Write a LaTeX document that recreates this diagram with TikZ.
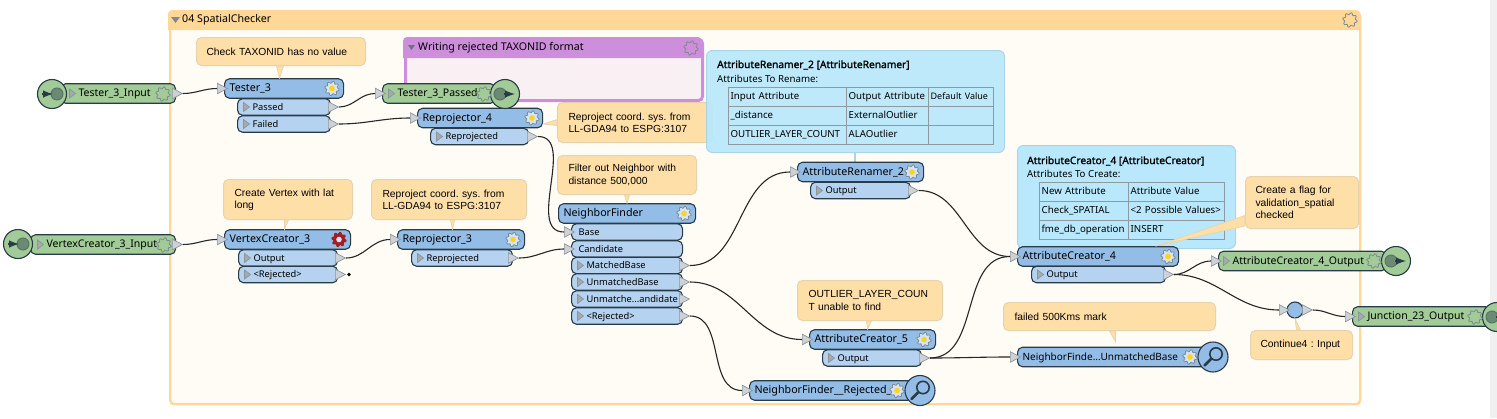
\documentclass[tikz,border=0pt]{standalone}
\usepackage{fontspec}
\setmainfont{Noto Sans}[AutoFakeBold=1.5]
\newfontfamily\notefont{Liberation Sans}
\usetikzlibrary{shapes.geometric,positioning}

\definecolor{inkline}{HTML}{2A3B48}
\definecolor{hdrblue}{HTML}{93BDE6}
\definecolor{portblue}{HTML}{B5D3F1}
\definecolor{pillgreen}{HTML}{A1CB97}
\definecolor{notefill}{HTML}{FFDFA8}
\definecolor{noteline}{HTML}{E6D3AE}
\definecolor{bandorange}{HTML}{FFD897}
\definecolor{bandbody}{HTML}{FFFCF6}
\definecolor{bandpurple}{HTML}{CD8FDB}
\definecolor{purplebody}{HTML}{F8F0F3}
\definecolor{infoblue}{HTML}{B9E8FC}
\definecolor{infoline}{HTML}{A9D5E6}
\definecolor{cellline}{HTML}{8F9AA0}
\definecolor{tipgray}{HTML}{CDD2D6}
\definecolor{tipline}{HTML}{8D959B}
\definecolor{cogline}{HTML}{7F8A90}
\definecolor{cogyellow}{HTML}{FFD21E}
\definecolor{cogred}{HTML}{A61C22}

\begin{document}
\frenchspacing
\begin{tikzpicture}[
        x=1pt, y=-1pt,
        every node/.style = {inner sep=0pt},
        tri/.style = {path picture={
                \filldraw[sharp corners, line width=0.7pt, fill=tipline!80, draw=tipline]
                ([xshift=#1,yshift=4.5pt]path picture bounding box.west) --
                ([xshift=#1+6]path picture bounding box.west) --
                ([xshift=#1,yshift=-4.5pt]path picture bounding box.west) -- cycle;}},
        block/.style n args = {3}{draw=inkline, line width=1.1pt, rounded corners=5pt, anchor=west,
                minimum height=#2, inner xsep=#3, text width=#1-2*(#3),
                text height=8.5pt, text depth=2.5pt},
        hdr/.style = {block={#1}{19.5pt}{5}, fill=hdrblue, font=\fontsize{10.7}{13}\selectfont},
        port/.style = {block={#1}{16.5pt}{15}, fill=portblue, tri=6, font=\fontsize{9.3}{11}\selectfont},
        inport/.style = {block={#1}{16.5pt}{7}, fill=portblue, font=\fontsize{9.3}{11}\selectfont},
        pill/.style 2 args = {block={#1}{19.5pt}{#2+6}, fill=pillgreen, tri=#2-3, font=\fontsize{10.5}{13}\selectfont},
        tip/.style = {isosceles triangle, isosceles triangle apex angle=70, isosceles triangle stretches,
                draw=tipline, fill=tipgray, line width=0.7pt, minimum width=10.5pt, minimum height=10pt, anchor=west},
        portal/.style = {circle, draw=inkline, line width=1.1pt, fill=pillgreen, minimum size=29pt},
        note/.style = {draw=noteline, line width=1pt, fill=notefill, rounded corners=5pt, anchor=north west,
                align=left, font=\notefont\fontsize{10.3}{12.2}\selectfont},
        tail/.style = {fill=notefill, draw=noteline, line width=0.7pt},
        info/.style = {draw=infoline, line width=1pt, fill=infoblue, rounded corners=6pt, anchor=north west},
        infotxt/.style = {anchor=west, font=\fontsize{9.7}{11}\selectfont},
        infohead/.style = {anchor=west, font=\fontsize{10.2}{11}\bfseries\selectfont},
        cell/.style 2 args = {draw=cellline, line width=1.3pt, anchor=north west, inner xsep=2pt,
                minimum height=#2, text width=#1-4, text height=7.5pt, text depth=2pt,
                font=\fontsize{9.7}{11}\selectfont},
        wire/.style = {draw=black!85, line width=1.1pt},
        title/.style = {anchor=west, font=\fontsize{10.65}{13}\selectfont},
        pics/cog/.style n args = {3}{code={
                \filldraw[fill=#2, draw=#1, line width=0.8pt] plot[samples=65,domain=0:360,smooth]
                (\x:{6.3+1*sin(8*\x)}) -- cycle;
                \fill[#3] (0,0) circle (2.8pt);}},
        pics/lens/.style = {code={
                \draw[inkline, line width=1.1pt, fill=hdrblue] (0,0) circle (15pt);
                \draw[inkline, line width=2.6pt, line cap=round] (-2,2) -- (-8.5,8.5);
                \draw[inkline, line width=1.6pt] (3,-3) circle (6.2pt);}},
        ]
        \useasboundingbox (0,0) rectangle (1497,418);

        % scroll strip and the two bookmarks
        \fill[black!6] (1490,0) rectangle (1497,418);
        \node[draw=bandorange, line width=2.4pt, fill=bandbody, rounded corners=4pt, minimum width=1190pt, minimum height=392pt,
              anchor=north west](spatial) at (169,11) {};
        \fill[bandorange] (168,30) [rounded corners=4pt] -- (168,10) -- (1360,10) [sharp corners] -- (1360,30) -- cycle;
        \fill[cogline] (171,17) -- (180,17) -- (175.5,23) -- cycle;
        \node[title](spatialname) at (182,20) {04 SpatialChecker};
        \pic at (1350,20) {cog={cogline}{bandorange}{bandorange}};

        \node[draw=bandpurple, line width=3pt, fill=purplebody, rounded corners=4pt, minimum width=297pt, minimum height=61pt,
              anchor=north west](rejected) at (404,38) {};
        \fill[bandpurple] (403,58) [rounded corners=4pt] -- (403,37) -- (702,37) [sharp corners] -- (702,58) -- cycle;
        \fill[inkline!70] (408,45) -- (415,45) -- (411.5,50) -- cycle;
        \node[title](rejectedname) at (418,48) {Writing rejected TAXONID format};
        \pic at (691,48) {cog={cogline}{bandpurple}{bandpurple}};

        % annotations
        \node[note, minimum width=169pt, minimum height=28pt, inner xsep=10pt, text width=149pt](noteCheck) at (196,37) {Check TAXONID has no value};
        \node[note, minimum width=155pt, minimum height=40pt, inner xsep=11pt, text width=133pt](noteRepA) at (557,102) {Reproject coord. sys. from\\LL-GDA94 to ESPG:3107};
        \node[note, minimum width=129pt, minimum height=40pt, inner xsep=11pt, text width=107pt](noteVertex) at (223,179) {Create Vertex with lat\\long};
        \node[note, minimum width=155pt, minimum height=40pt, inner xsep=11pt, text width=133pt](noteRepB) at (371,179) {Reproject coord. sys. from\\LL-GDA94 to ESPG:3107};
        \node[note, minimum width=139pt, minimum height=39pt, inner xsep=11pt, text width=117pt](noteFilter) at (557,155) {Filter out Neighbor with\\distance 500,000};
        \node[note, minimum width=145pt, minimum height=40pt, inner xsep=11pt, text width=123pt](noteOutlier) at (797,280) {OUTLIER\_LAYER\_COUN\\T unable to find};
        \node[note, minimum width=212pt, minimum height=28pt, inner xsep=11pt, text width=190pt](noteFailed) at (1003,302) {failed 500Kms mark};
        \node[note, minimum width=102pt, minimum height=29pt, inner xsep=10pt, text width=82pt](noteCont) at (1250,330) {Continue4 : Input};

        % attribute panels
        \node[info, fill opacity=0.92, minimum width=298pt, minimum height=102pt](infoRenamer) at (706,50) {};
        \node[infohead](infoRenamerA) at (717,65) {AttributeRenamer\_2 [AttributeRenamer]};
        \node[infotxt](infoRenamerB) at (717,79) {Attributes To Rename:};
        \node[cell={118}{19pt}](ra) at (728,87) {Input Attribute};
        \node[cell={82}{19pt}](rb) at (846,87) {Output Attribute};
        \node[cell={65}{19pt}](rc) at (928,87) {\mbox{\fontsize{9}{11}\selectfont Default Value}};
        \node[cell={118}{19pt}](rd) at (728,106) {\_distance};
        \node[cell={82}{19pt}](re) at (846,106) {ExternalOutlier};
        \node[cell={65}{19pt}](rf) at (928,106) {};
        \node[cell={118}{19pt}](rg) at (728,125) {OUTLIER\_LAYER\_COUNT};
        \node[cell={82}{19pt}](rh) at (846,125) {ALAOutlier};
        \node[cell={65}{19pt}](ri) at (928,125) {};
        \draw[infoline, line width=2pt] (855,152) -- (855,162);

        \node[info, minimum width=218pt, minimum height=103pt](infoCreator) at (1017,145) {};
        \node[infohead](infoCreatorA) at (1027,161) {AttributeCreator\_4 [AttributeCreator]};
        \node[infotxt](infoCreatorB) at (1027,174) {Attributes To Create:};
        \node[cell={89}{19pt}](ca) at (1039,182) {New Attribute};
        \node[cell={96}{19pt}](cb) at (1128,182) {Attribute Value};
        \node[cell={89}{19pt}](cc) at (1039,201) {Check\_SPATIAL};
        \node[cell={96}{19pt}](cd) at (1128,201) {<2 Possible Values>};
        \node[cell={89}{19pt}](ce) at (1039,220) {fme\_db\_operation};
        \node[cell={96}{19pt}](cf) at (1128,220) {INSERT};

        \node[note, minimum width=113pt, minimum height=52pt, inner xsep=10pt, text width=93pt](noteFlag) at (1245,176) {Create a flag for\\validation\_spatial\\checked};

        % transformers and their ports
        \node[hdr=119](tester) at (224,88.5) {Tester\_3};
        \node[port=93](testerPass) at (237,107) {Passed};
        \node[port=93](testerFail) at (237,124) {Failed};

        \node[hdr=125](repA) at (417,118) {Reprojector\_4};
        \node[port=98](repAout) at (430,136.5) {Reprojected};

        \node[hdr=126](vertex) at (224,239.5) {VertexCreator\_3};
        \node[port=99](vertexOut) at (238,258) {Output};
        \node[port=99](vertexRej) at (238,274.5) {<Rejected>};

        \node[hdr=127](repB) at (397,239.5) {Reprojector\_3};
        \node[port=101](repBout) at (411,258) {Reprojected};

        \node[hdr=137](finder) at (558,213.5) {NeighborFinder};
        \node[inport=111](finderBase) at (571,232) {Base};
        \node[inport=111](finderCand) at (571,249) {Candidate};
        \node[port=111](finderMatch) at (571,265.5) {MatchedBase};
        \node[port=111](finderUnm) at (571,282) {UnmatchedBase};
        \node[port=111](finderUnc) at (571,299) {Unmatche...andidate};
        \node[port=111](finderRej) at (571,316) {<Rejected>};

        \node[hdr=126](renamer) at (797,172) {AttributeRenamer\_2};
        \node[port=100](renamerOut) at (810,190.5) {Output};

        \node[hdr=161](creatorD) at (1017,256.5) {AttributeCreator\_4};
        \node[port=134](creatorDout) at (1031,274.5) {Output};

        \node[hdr=126](creatorE) at (809,339.5) {AttributeCreator\_5};
        \node[port=99](creatorEout) at (822,358) {Output};

        \node[hdr=170](rejectedview) at (749,390.5) {NeighborFinder\_\_Rejected\_};
        \node[hdr=190, font=\fontsize{10}{13}\selectfont](unmatchedview) at (1017,357) {NeighborFinde...UnmatchedBase};

        % feature types on the outer edges
        \node[pill={115}{12}](testerInput) at (60,93.5) {Tester\_3\_Input};
        \node[portal](testerInputEnd) at (52,94) {};
        \node[pill={145}{10}](vertexInput) at (30,244.5) {VertexCreator\_3\_Input};
        \node[portal](vertexInputEnd) at (18,244) {};
        \node[pill={113}{9}](testerPassed) at (382,93.5) {Tester\_3\_Passed};
        \node[portal](testerPassedEnd) at (505,94) {};
        \node[pill={168}{8}](creatorOutput) at (1218,261) {AttributeCreator\_4\_Output};
        \node[portal](creatorOutputEnd) at (1396,261) {};
        \node[pill={138}{9}](junctionOutput) at (1352,316.5) {Junction\_23\_Output};
        \node[portal](junctionOutputEnd) at (1497,317) {};
        \node[circle, draw=inkline, line width=1.1pt, fill=hdrblue, minimum size=16pt](junction) at (1295,310) {};

        % annotation tails
        \filldraw[tail] ([xshift=-4.5pt]noteCheck.south) -- ([xshift=-4.5pt]tester.north) -- ([xshift=2.5pt]noteCheck.south) -- cycle;
        \filldraw[tail] ([yshift=3pt]noteRepA.west) -- ([yshift=-6pt]repA.east) -- ([yshift=-3pt]noteRepA.west) -- cycle;
        \filldraw[tail] ([xshift=-3.5pt]noteVertex.south) -- ([xshift=-3pt]vertex.north) -- ([xshift=0.5pt]noteVertex.south) -- cycle;
        \filldraw[tail] ([xshift=1.5pt]noteRepB.south) -- ([xshift=-8.5pt]repB.north) -- ([xshift=5.5pt]noteRepB.south) -- cycle;
        \filldraw[tail] ([xshift=-2.5pt]noteFilter.south) -- (finder.north) -- ([xshift=2.5pt]noteFilter.south) -- cycle;
        \filldraw[tail] ([xshift=-3.5pt]noteOutlier.south) -- ([xshift=-5pt]creatorE.north) -- ([xshift=1.5pt]noteOutlier.south) -- cycle;
        \filldraw[tail] (noteFailed.south) -- ([xshift=3pt,yshift=5pt]unmatchedview.north) -- ([xshift=6pt]noteFailed.south) -- cycle;
        \filldraw[tail] ([xshift=-5pt]noteCont.north) -- (junction.south) -- ([xshift=-1pt]noteCont.north) -- cycle;
        \filldraw[tail] ([yshift=-13pt]noteFlag.west) -- ([xshift=57.5pt]creatorD.north) -- ([yshift=3pt]noteFlag.south west) -- cycle;

        % arrows on the end circles
        \foreach \c in {testerInputEnd, vertexInputEnd} {
            \draw[inkline!60!pillgreen, fill=inkline!45!pillgreen, line width=1pt] ([xshift=5pt]\c.center) circle (6pt);
            \draw[inkline, line width=2.4pt, -latex] ([xshift=-10pt]\c.center) -- ([xshift=1pt]\c.center);
        }
        \foreach \c in {testerPassedEnd, creatorOutputEnd, junctionOutputEnd} {
            \draw[inkline!60!pillgreen, fill=inkline!45!pillgreen, line width=1pt] ([xshift=-5pt]\c.center) circle (6pt);
            \draw[inkline, line width=2.4pt, -latex] ([xshift=-1pt]\c.center) -- ([xshift=10pt]\c.center);
        }

        % gears
        \pic at (163,94) {cog={cogline}{pillgreen}{pillgreen}};
        \pic at (164,245) {cog={cogline}{pillgreen}{pillgreen}};
        \pic at (484,94) {cog={cogline}{pillgreen}{pillgreen}};
        \pic at (1374,261) {cog={cogline}{pillgreen}{pillgreen}};
        \pic at (1475,317) {cog={cogline}{pillgreen}{pillgreen}};
        \pic at (332,88.5) {cog={cogline}{hdrblue!40!white}{cogyellow}};
        \pic at (532,118) {cog={cogline}{hdrblue!40!white}{cogyellow}};
        \pic at (513,239.5) {cog={cogline}{hdrblue!40!white}{cogyellow}};
        \pic at (684,213.5) {cog={cogline}{hdrblue!40!white}{cogyellow}};
        \pic at (912,172) {cog={cogline}{hdrblue!40!white}{cogyellow}};
        \pic at (1168,256.5) {cog={cogline}{hdrblue!40!white}{cogyellow}};
        \pic at (924,339.5) {cog={cogline}{hdrblue!40!white}{cogyellow}};
        \pic at (897,390.5) {cog={cogline}{hdrblue!40!white}{cogyellow}};
        \pic at (1190,357) {cog={cogline}{hdrblue!40!white}{cogyellow}};
        \pic at (339,239.5) {cog={cogred}{cogred}{hdrblue!40!white}};
        \pic at (920,390.5) {lens};
        \pic at (1213,357) {lens};

        % input and output tips
        \node[tip](tTesterIn) at (217,88.5) {};
        \node[tip](tTesterPass) at (328,107) {};
        \node[tip](tTesterFail) at (328,124) {};
        \node[tip](tPassedIn) at (375,93.5) {};
        \node[tip](tRepAIn) at (410,118) {};
        \node[tip](tRepAOut) at (527,136.5) {};
        \node[tip](tTesterInput) at (172,93.5) {};
        \node[tip](tVertexInput) at (172,244.5) {};
        \node[tip](tVertexIn) at (217,239.5) {};
        \node[tip](tVertexOut) at (335,258) {};
        \node[tip](tVertexRej) at (335,274.5) {};
        \fill[black] (349,274.5) circle (1.8pt);
        \node[tip](tRepBIn) at (390,239.5) {};
        \node[tip](tRepBOut) at (508,258) {};
        \node[tip](tBaseIn) at (564,232) {};
        \node[tip](tCandIn) at (564,249) {};
        \node[tip](tMatchOut) at (679,265.5) {};
        \node[tip](tUnmOut) at (679,282) {};
        \node[tip](tUncOut) at (679,299) {};
        \node[tip](tRejOut) at (679,316) {};
        \node[tip](tRenamerIn) at (790,172) {};
        \node[tip](tRenamerOut) at (908,190.5) {};
        \node[tip](tCreatorDIn) at (1010,256.5) {};
        \node[tip](tCreatorDOut) at (1163,274.5) {};
        \node[tip](tCreatorEIn) at (802,339.5) {};
        \node[tip](tCreatorEOut) at (919,358) {};
        \node[tip](tRejViewIn) at (742,390.5) {};
        \node[tip](tUnmViewIn) at (1010,357) {};
        \node[tip](tOutputIn) at (1211,261) {};
        \node[tip](tJuncIn) at (1279,310) {};
        \node[tip](tJuncOut) at (1302,310) {};
        \node[tip](tJOutIn) at (1345,316.5) {};

        % connections
        \draw[wire] (tTesterInput.apex) to[out=0,in=180] (tTesterIn.west);
        \draw[wire] (tVertexInput.apex) to[out=0,in=180] (tVertexIn.west);
        \draw[wire] (tTesterPass.apex) to[out=0,in=180] (tPassedIn.west);
        \draw[wire] (tTesterFail.apex) to[out=0,in=180] (tRepAIn.west);
        \draw[wire] (tVertexOut.apex) to[out=0,in=180] (tRepBIn.west);
        \draw[wire] (tRepBOut.apex) to[out=0,in=180] (tCandIn.west);
        \draw[wire] (tRepAOut.apex) to[out=0,in=180] (tBaseIn.west);
        \draw[wire] (tMatchOut.apex) to[out=0,in=180] (tRenamerIn.west);
        \draw[wire] (tUnmOut.apex) to[out=0,in=180] (tCreatorEIn.west);
        \draw[wire] (tRejOut.apex) to[out=0,in=180] (tRejViewIn.west);
        \draw[wire] (tRenamerOut.apex) to[out=0,in=180] (tCreatorDIn.west);
        \draw[wire] (tCreatorEOut.apex) to[out=0,in=180] (tCreatorDIn.west);
        \draw[wire] (tCreatorEOut.apex) to[out=0,in=180] (tUnmViewIn.west);
        \draw[wire] (tCreatorDOut.apex) to[out=0,in=180] (tOutputIn.west);
        \draw[wire] (tCreatorDOut.apex) to[out=0,in=180] (tJuncIn.west);
        \draw[wire] (tJuncOut.apex) to[out=0,in=180] (tJOutIn.west);
\end{tikzpicture}
\end{document}
